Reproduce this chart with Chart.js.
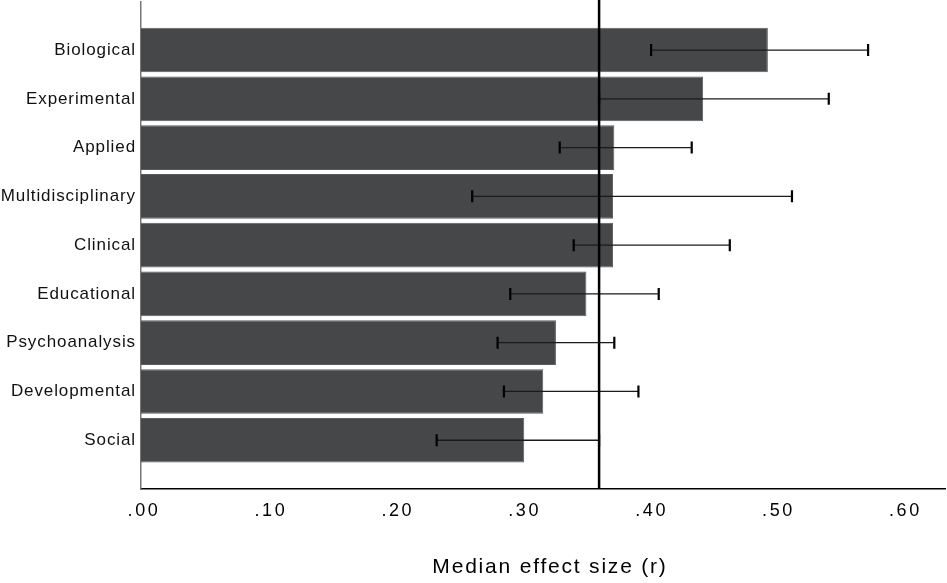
<!DOCTYPE html>
<html>
<head>
<meta charset="utf-8">
<script src="https://cdn.jsdelivr.net/npm/chart.js@4.4.1/dist/chart.umd.min.js"></script>
<style>
  html, body { margin: 0; padding: 0; background: #fff; }
  #wrap { width: 947px; height: 583px; }
</style>
</head>
<body>
<div id="wrap"><canvas id="c"></canvas></div>
<script>
// Fields, ordered as drawn (top to bottom)
const categories = ["Biological", "Experimental", "Applied", "Multidisciplinary", "Clinical",
                    "Educational", "Psychoanalysis", "Developmental", "Social"];
const medians   = [0.494, 0.443, 0.373, 0.372, 0.372, 0.351, 0.327, 0.317, 0.302];
const ciLow     = [0.402, 0.361, 0.330, 0.261, 0.341, 0.291, 0.281, 0.286, 0.233];
const ciHigh    = [0.573, 0.542, 0.434, 0.513, 0.464, 0.408, 0.373, 0.392, 0.361];
const xTicks    = [0, 0.1, 0.2, 0.3, 0.4, 0.5, 0.6];
const overallMedian = 0.361;

const FONT = "'Liberation Sans', Arial, sans-serif";

// letter spacing (and a small nudge) per axis, canvas letterSpacing
function spaced(scale, labelSp, titleSp, labelDx, titleDx) {
  if (scale._spaced) return;
  scale._spaced = true;
  const dl = scale.drawLabels, dt = scale.drawTitle;
  scale.drawLabels = function (a) {
    const c = this.ctx; c.save(); c.translate(labelDx, 0); c.letterSpacing = labelSp;
    dl.call(this, a); c.restore(); c.letterSpacing = "0px";
  };
  scale.drawTitle = function (a) {
    const c = this.ctx; c.save(); c.translate(titleDx, 0); c.letterSpacing = titleSp;
    dt.call(this, a); c.restore(); c.letterSpacing = "0px";
  };
}

const extras = {
  id: "extras",
  afterLayout(chart) {
    spaced(chart.scales.x, "2.6px", "1.8px", 3, 7);
    spaced(chart.scales.y, "0.9px", "0px", 1, 0);
  },
  afterDatasetsDraw(chart) {
    const { ctx, scales: { x, y }, chartArea } = chart;
    ctx.save();
    // error bars
    ciLow.forEach((lo, i) => {
      const yp = y.getPixelForValue(i);
      const x1 = x.getPixelForValue(lo), x2 = x.getPixelForValue(ciHigh[i]);
      ctx.strokeStyle = "#1a1a1a";
      ctx.lineWidth = 1.3;
      ctx.beginPath(); ctx.moveTo(x1, yp); ctx.lineTo(x2, yp); ctx.stroke();
      ctx.strokeStyle = "#000";
      ctx.lineWidth = 2.2;
      ctx.beginPath();
      ctx.moveTo(x1, yp - 6); ctx.lineTo(x1, yp + 6);
      ctx.moveTo(x2, yp - 6); ctx.lineTo(x2, yp + 6);
      ctx.stroke();
    });
    // overall median reference line
    const xm = x.getPixelForValue(overallMedian);
    ctx.strokeStyle = "#000";
    ctx.lineWidth = 2.5;
    ctx.beginPath(); ctx.moveTo(xm, chartArea.top - 2); ctx.lineTo(xm, chartArea.bottom); ctx.stroke();
    ctx.restore();
  }
};

new Chart(document.getElementById("c"), {
  type: "bar",
  data: {
    datasets: [{
      data: medians.map((v, i) => ({ x: v, y: i })),
      backgroundColor: "#464749",
      borderColor: "#5c5c5e",
      borderWidth: 1,
      barPercentage: 0.915,
      categoryPercentage: 1
    }]
  },
  options: {
    indexAxis: "y",
    responsive: true,
    maintainAspectRatio: false,
    animation: false,
    layout: { padding: { top: 2, right: 2, bottom: 0, left: 0 } },
    plugins: { legend: { display: false }, tooltip: { enabled: false } },
    scales: {
      x: {
        type: "linear",
        min: 0,
        max: 0.6336,
        afterBuildTicks: s => { s.ticks = xTicks.map(v => ({ value: v })); },
        afterFit: s => { s.height = 94; },
        grid: { display: false, drawTicks: false },
        border: { display: true, color: "#000", width: 1.5 },
        ticks: {
          color: "#000",
          padding: 11,
          font: { family: FONT, size: 18 },
          callback: v => v.toFixed(2).replace(/^0/, "")
        },
        title: {
          display: true,
          text: "Median effect size (r)",
          color: "#000",
          font: { family: FONT, size: 21 },
          padding: { top: 0, bottom: 3 }
        }
      },
      y: {
        type: "linear",
        offset: false,
        reverse: true,
        min: -0.985,
        max: 9.0,
        afterBuildTicks: s => { s.ticks = categories.map((c, i) => ({ value: i })); },
        afterFit: s => { s.width = 141; s.paddingTop = 0; s.paddingBottom = 0; },
        grid: { display: false, drawTicks: false },
        border: { display: true, color: "#777", width: 1.5 },
        ticks: {
          color: "#111",
          padding: 6,
          font: { family: FONT, size: 17 },
          callback: v => categories[v] ?? ""
        }
      }
    }
  },
  plugins: [extras]
});
</script>
</body>
</html>
